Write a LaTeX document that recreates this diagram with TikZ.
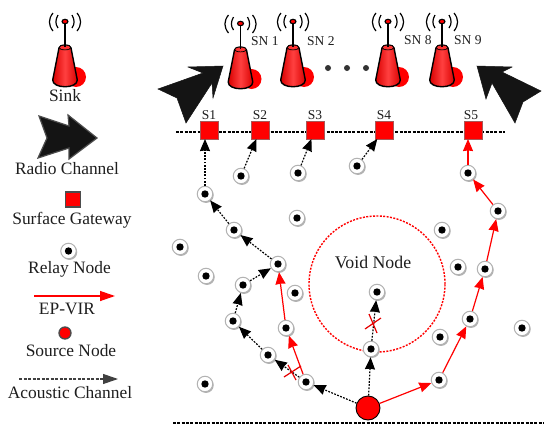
\documentclass[tikz,border=0pt]{standalone}
\usepackage{fontspec}
\setmainfont{Liberation Serif}
\usetikzlibrary{arrows.meta,shadows}
\definecolor{rd}{RGB}{255,0,0}
\definecolor{ink}{RGB}{30,30,30}
\tikzset{
  x=1pt,y=-1pt,
  relay/.style={circle,draw=gray!60,fill=white,line width=1pt,minimum size=15.5pt,inner sep=0pt,outer sep=0.5pt,
    drop shadow={shadow xshift=1pt,shadow yshift=-1.2pt,opacity=.3,fill=black},
    path picture={\fill[black] (path picture bounding box.center) circle (3.7pt);}},
  gateway/.style={rectangle,fill=rd,draw=gray!70!red,line width=0.5pt,minimum size=18pt,inner sep=0pt,outer sep=0pt},
  source/.style={circle,fill=rd,draw=black,line width=0.9pt,minimum size=24pt,inner sep=0pt},
  acoustic/.style={draw=black,line width=1.2pt,dash pattern=on 1.8pt off 1.4pt,-{Stealth[length=12pt,width=10pt,inset=0.5pt,fill=black]}},
  epvir/.style={draw=rd,line width=1.2pt,-{Stealth[length=12pt,width=10pt,inset=0.5pt,fill=rd]}},
  surface/.style={draw=black,line width=1.3pt,dash pattern=on 3pt off 1.3pt},
  crossmark/.style={draw=rd!90!black,line width=1.2pt},
  txt/.style={inner sep=0pt,font=\fontsize{17.4}{17.4}\selectfont,text=ink},
  small/.style={inner sep=0pt,font=\fontsize{13.5}{13.5}\selectfont,text=ink},
  bigarrow/.style={fill=black!92,draw=black!92,line width=0.5pt,line join=miter},
  pics/tower/.style={code={
    \fill[rd] (11,77) circle (10pt);
    \draw[line width=1.3pt,black] (0,22) -- (0,46);
    \draw[line width=1.1pt,black,fill=rd] (0,21.5) ellipse (3pt and 2.2pt);
    \draw[line width=1.2pt,black] (-7,15) .. controls (-9.8,20) and (-9.8,24) .. (-7,28);
    \draw[line width=1.2pt,black] (7,15) .. controls (9.8,20) and (9.8,24) .. (7,28);
    \draw[line width=1.2pt,black] (-12,13) .. controls (-16.8,19) and (-16.8,25) .. (-12,31);
    \draw[line width=1.2pt,black] (12,13) .. controls (16.8,19) and (16.8,25) .. (12,31);
    \draw[line width=1.4pt,black,left color=rd!85!black,right color=rd!85!black,middle color=rd!75!white,line join=round]
      (-6,48) -- (-12.3,80) .. controls (-12.5,89) and (12.5,89) .. (12.3,80) -- (6,48)
      .. controls (6,44) and (-6,44) .. (-6,48) -- cycle;
    \draw[line width=0.7pt,black,fill=rd!80!white] (0,47.5) ellipse (5.8pt and 2.4pt);
    \draw[line width=1.3pt,black] (0,42) -- (0,46.5);
  }}
}
\begin{document}
\begin{tikzpicture}
\useasboundingbox (0,0) rectangle (550,434);
\fill[white] (0,0) rectangle (550,434);

% surface and bottom lines
\coordinate (surfL) at (176,132); \coordinate (surfR) at (505,132);
\coordinate (botL) at (173,423); \coordinate (botR) at (544,423);
\draw[surface] (surfL) -- (surfR);
\draw[surface] (botL) -- (botR);

% towers
\pic at (65,0) {tower};
\pic at (240.5,2) {tower};
\pic at (293,0) {tower};
\pic at (388,0) {tower};
\pic at (442,0) {tower};

% big arrows
\draw[bigarrow] (158,89) -- (203,73) -- (188,67) -- (223,66) -- (213,98) -- (212,83) -- (186,123) -- (177,98) -- cycle;
\draw[bigarrow] (541,91) -- (502,72) -- (512,67) -- (477,66) -- (486,99) -- (492,83) -- (515,123) -- (523,102) -- cycle;
\draw[fill=black!92,draw=black!70,line width=1.2pt] (39,116) -- (69,126) -- (68,115) -- (97,138) -- (69,159) -- (69,148) -- (38,158) -- (47,138) -- cycle;

% void region
\node[circle,draw=rd,line width=1.4pt,dash pattern=on 2pt off 1.4pt,minimum size=136pt,inner sep=0pt] (void) at (377,284) {};
\node[inner sep=0pt,font=\fontsize{17.8}{17.8}\selectfont,text=ink] (voidlabel) at (373,262) {Void Node};

% gateways
\node[gateway] (S1) at (209,130) {};
\node[gateway] (S2) at (260,130) {};
\node[gateway] (S3) at (315,130) {};
\node[gateway] (S4) at (384,130) {};
\node[gateway] (S5) at (473,130) {};
\node[small] (lS1) at (209,115) {S1};
\node[small] (lS2) at (260,115) {S2};
\node[small] (lS3) at (315,115) {S3};
\node[small] (lS4) at (384,115) {S4};
\node[small] (lS5) at (471,115) {S5};

% SN labels
\node[small,anchor=west] (sn1) at (251,41) {SN 1};
\node[small,anchor=west] (sn2) at (307,41) {SN 2};
\node[small,anchor=west] (sn8) at (404,40) {SN 8};
\node[small,anchor=west] (sn9) at (454,40) {SN 9};

% ellipsis dots
\fill[black!80] (328,68) circle (3pt) (347,68) circle (3pt) (366,68) circle (3pt);

% relay nodes
\node[relay] (a1) at (205,194) {};
\node[relay] (a2) at (241,176) {};
\node[relay] (a3) at (298,173) {};
\node[relay] (a4) at (357,166) {};
\node[relay] (b1) at (468,173) {};
\node[relay] (b2) at (498,211) {};
\node[relay] (c1) at (297,218) {};
\node[relay] (d1) at (234,230) {};
\node[relay] (d2) at (278,264) {};
\node[relay] (d3) at (243,285) {};
\node[relay] (d4) at (233,321) {};
\node[relay] (d5) at (268,355) {};
\node[relay] (d6) at (306,382) {};
\node[relay] (e1) at (180,247) {};
\node[relay] (e2) at (206,276) {};
\node[relay] (e3) at (205,384) {};
\node[relay] (e4) at (295,293) {};
\node[relay] (f1) at (286,328) {};
\node[relay] (g1) at (377,292) {};
\node[relay] (g2) at (371,349) {};
\node[relay] (h1) at (439,380) {};
\node[relay] (h2) at (470,319) {};
\node[relay] (h3) at (485,269) {};
\node[relay] (i1) at (458,267) {};
\node[relay] (i2) at (442,230) {};
\node[relay] (i3) at (440,337) {};
\node[relay] (i4) at (522,328) {};
\node[source] (src) at (368,408) {};

% acoustic connectors
\draw[acoustic] (a1) -- (a1 |- S1.south);
\draw[acoustic] (a2) -- (S2);
\draw[acoustic] (a3) -- (S3);
\draw[acoustic] (a4) -- (S4);
\draw[acoustic] (d1) -- (a1);
\draw[acoustic] (d2) -- (d1);
\draw[acoustic] (d3) -- (d2);
\draw[acoustic] (d4) -- (d3);
\draw[acoustic] (d5) -- (d4);
\draw[acoustic] (d6) -- (d5);
\draw[acoustic] (src) -- (d6);
\draw[acoustic] (src) -- (g2);
\draw[acoustic] (g2) -- (g1);

% EP-VIR connectors
\draw[epvir] (src) -- (h1);
\draw[epvir] (h1) -- (h2);
\draw[epvir] (h2) -- (h3);
\draw[epvir] (h3) -- (b2);
\draw[epvir] (b2) -- (b1);
\draw[epvir] (b1) -- (b1 |- S5.south);
\draw[epvir] (d6) -- (f1);
\draw[epvir] (f1) -- (d2);

% crosses
\draw[crossmark] (284,377) -- (301,366) (288,365) -- (296,380);
\draw[crossmark] (365,329) -- (381,318) (369,314) -- (377,333);

% legend
\node[txt] (lsink) at (65,96) {Sink};
\node[txt] (lradio) at (67,169) {Radio Channel};
\node[rectangle,fill=rd,draw=black!70,line width=1.2pt,minimum size=15pt,inner sep=0pt] (lgate) at (73,199.5) {};
\node[txt] (lgatet) at (72,220) {Surface Gateway};
\node[relay] (lrelay) at (68.5,251) {};
\node[txt] (lrelayt) at (69.5,269) {Relay Node};
\coordinate (lepa) at (34,296); \coordinate (lepb) at (115,296);
\draw[draw=rd,line width=1.3pt,-{Stealth[length=15pt,width=10pt,inset=0pt,fill=rd]}] (lepa) -- (lepb);
\node[txt] (lept) at (67,309) {EP-VIR};
\node[circle,fill=rd,draw=black!70,line width=1.3pt,minimum size=12pt,inner sep=0pt] (lsrc) at (65,333) {};
\node[txt] (lsrct) at (71,351) {Source Node};
\coordinate (laca) at (19,379); \coordinate (lacb) at (118,379);
\draw[draw=black!75,line width=1.1pt,dash pattern=on 3pt off 1.5pt,-{Stealth[length=15pt,width=10pt,inset=0pt,fill=black!75]}] (laca) -- (lacb);
\node[txt] (lact) at (70,393) {Acoustic Channel};
\end{tikzpicture}
\end{document}
